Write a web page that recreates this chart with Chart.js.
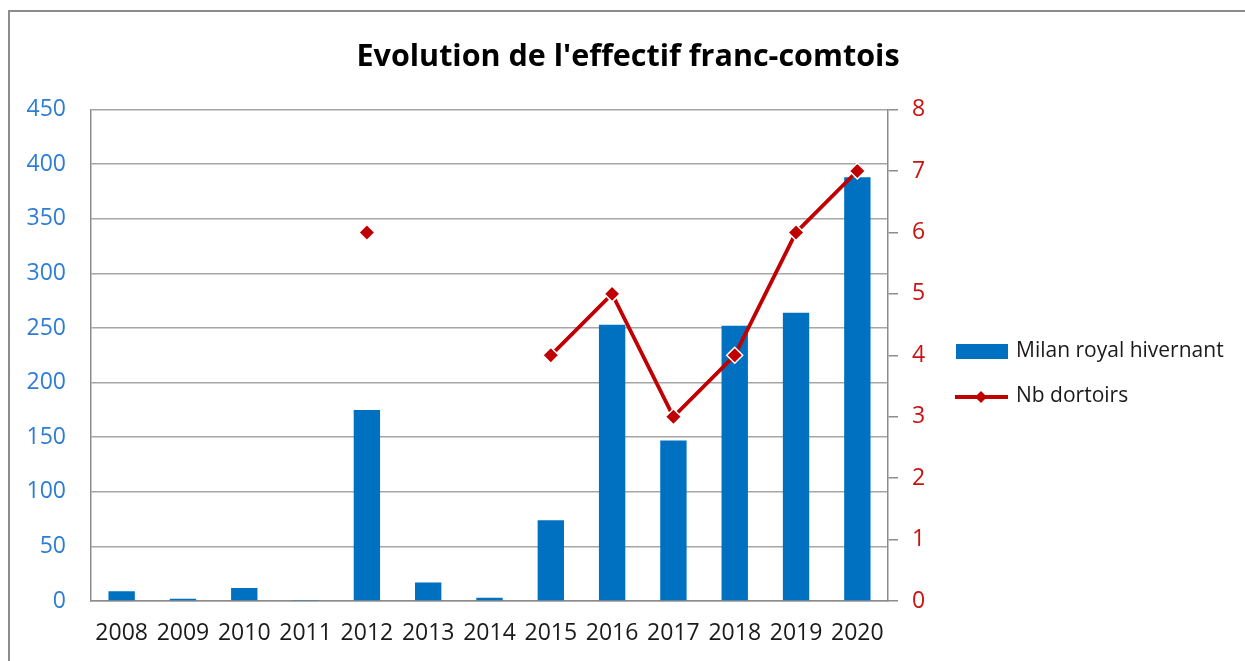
<!DOCTYPE html>
<html>
<head>
<meta charset="utf-8">
<script src="https://cdn.jsdelivr.net/npm/chart.js@4"></script>
<style>
  body { margin: 0; background: #fff; }
  #cadre { position: absolute; left: 8px; top: 10px; width: 1245px; height: 700px;
           border-top: 2px solid #8c8c8c; border-left: 2px solid #8c8c8c; }
  #grafico { position: absolute; left: 0; top: 0; }
</style>
</head>
<body>
<div id="cadre"></div>
<canvas id="grafico" width="1245" height="661"></canvas>
<script>
const annees = ['2008', '2009', '2010', '2011', '2012', '2013', '2014', '2015', '2016', '2017', '2018', '2019', '2020'];
const milans = [9, 2, 12, 1, 175, 17, 3, 74, 253, 147, 252, 264, 388];
const dortoirs = [null, null, null, null, 6, null, null, 4, 5, 3, 4, 6, 7];
const ticksGauche = [0, 450, 50];
const ticksDroite = [0, 8, 1];

const police = "'Open Sans', sans-serif";

// legende dessinee a la main, a droite du graphique
const legende = {
  id: 'legende',
  afterDraw(chart) {
    const c = chart.ctx;
    const barres = chart.data.datasets[1];
    const ligne = chart.data.datasets[0];
    c.save();
    c.font = `21px ${police}`;
    c.textBaseline = 'middle';

    c.fillStyle = barres.backgroundColor;
    c.fillRect(956, 344, 52, 15);
    c.fillStyle = '#1a1a1a';
    c.fillText(barres.label, 1016, 351);

    c.strokeStyle = ligne.borderColor;
    c.lineWidth = 4;
    c.beginPath();
    c.moveTo(955, 397);
    c.lineTo(1008, 397);
    c.stroke();
    c.fillStyle = ligne.pointBackgroundColor;
    c.beginPath();
    c.moveTo(981, 391);
    c.lineTo(987, 397);
    c.lineTo(981, 403);
    c.lineTo(975, 397);
    c.closePath();
    c.fill();
    c.fillStyle = '#1a1a1a';
    c.fillText(ligne.label, 1016, 396);
    c.restore();
  }
};

new Chart(document.getElementById('grafico'), {
  data: {
    labels: annees,
    datasets: [{
      type: 'line',
      label: 'Nb dortoirs',
      data: dortoirs,
      yAxisID: 'y1',
      borderColor: '#C00000',
      borderWidth: 3.8,
      pointStyle: 'rectRot',
      pointRadius: 8,
      pointBackgroundColor: '#C00000',
      pointBorderColor: '#ffffff',
      pointBorderWidth: 1.5,
      spanGaps: false,
      tension: 0,
      order: 0
    }, {
      type: 'bar',
      label: 'Milan royal hivernant',
      data: milans,
      yAxisID: 'y',
      backgroundColor: '#0070C0',
      categoryPercentage: 1,
      barPercentage: 0.43,
      order: 1
    }]
  },
  options: {
    responsive: false,
    animation: false,
    layout: { padding: { left: 11, right: 0, top: 0, bottom: 0 } },
    plugins: {
      legend: { display: false },
      tooltip: { enabled: false },
      title: {
        display: true,
        text: "Evolution de l'effectif franc-comtois",
        color: '#000',
        font: { family: police, size: 30.5, weight: 'bold', lineHeight: 1.2 },
        padding: { top: 39, bottom: 34 }
      }
    },
    scales: {
      x: {
        offset: true,
        grid: { display: false, drawTicks: false },
        border: { display: true, color: '#8c8c8c', width: 1.5 },
        ticks: { color: '#1a1a1a', padding: 19, maxRotation: 0, autoSkip: false,
                 font: { family: police, size: 23 } },
        afterFit(scale) { scale.height = 60; }
      },
      y: {
        position: 'left',
        min: ticksGauche[0],
        max: ticksGauche[1],
        ticks: { stepSize: ticksGauche[2], color: '#2e7dd4', padding: 25,
                 font: { family: police, size: 23 } },
        grid: { color: '#a6a6a6', lineWidth: 1.5, drawTicks: false },
        border: { display: true, color: '#8c8c8c', width: 1.5 },
        afterFit(scale) { scale.width = 80; }
      },
      y1: {
        position: 'right',
        min: ticksDroite[0],
        max: ticksDroite[1],
        ticks: { stepSize: ticksDroite[2], color: '#cc1111', padding: 14,
                 font: { family: police, size: 23 } },
        grid: { drawOnChartArea: false, color: '#8c8c8c', lineWidth: 1.5, tickLength: 10 },
        border: { display: true, color: '#8c8c8c', width: 1.5 },
        afterFit(scale) { scale.width = 357; }
      }
    }
  },
  plugins: [legende]
});
</script>
</body>
</html>
